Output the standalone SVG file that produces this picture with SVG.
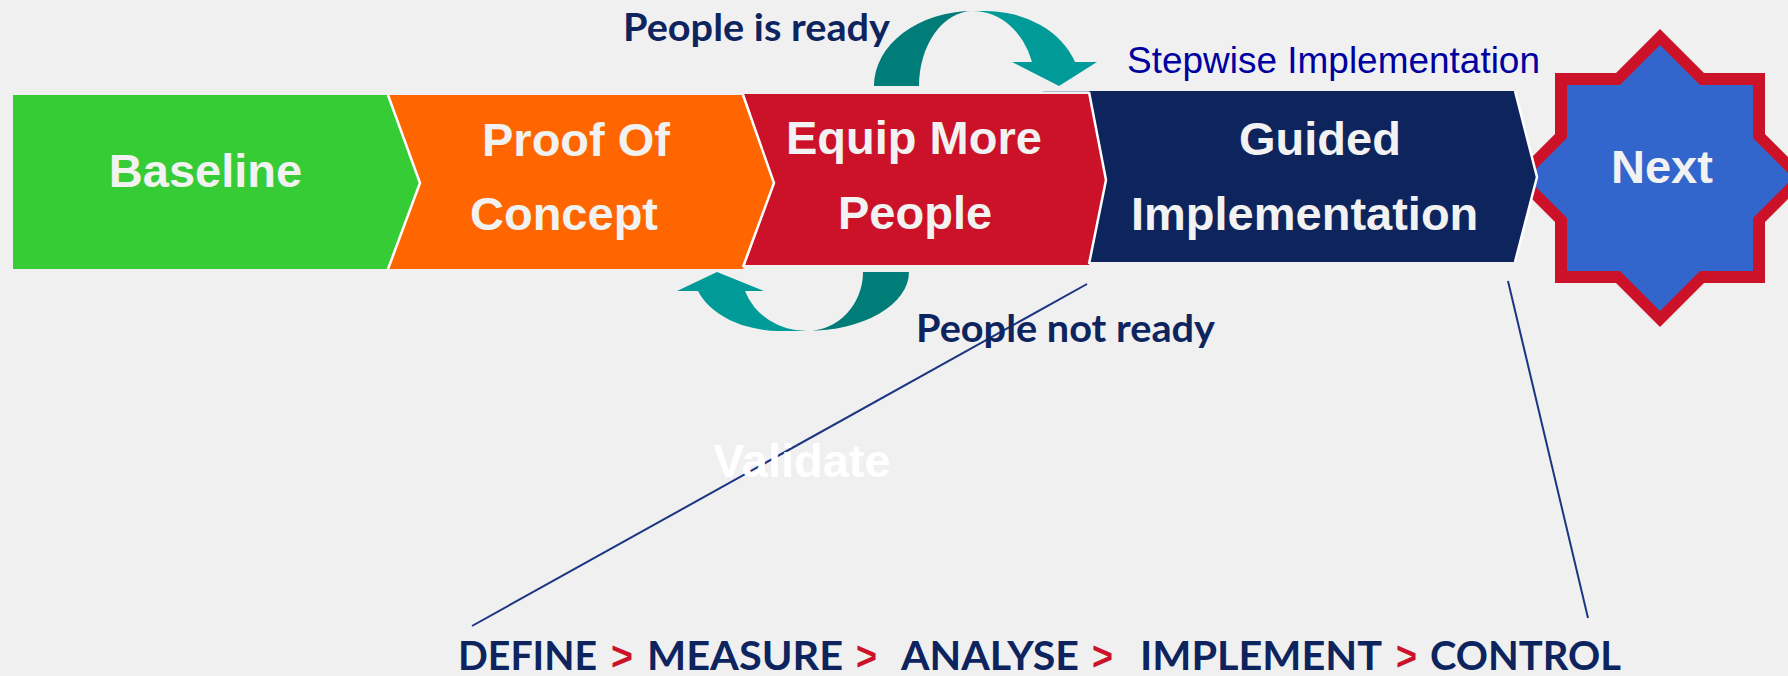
<svg xmlns="http://www.w3.org/2000/svg" width="1788" height="676" viewBox="0 0 1788 676">
<style>
.lbl{font-family:"Liberation Sans",Arial,sans-serif;font-weight:bold;font-size:47px;fill:#f2f2f2}
.sep{fill:none;stroke:#ffffff;stroke-width:2.5;stroke-linejoin:miter}
.cal{font-family:Lato,"Open Sans",sans-serif;font-weight:bold;fill:#0d245e}
.gt{font-family:"Liberation Sans",Arial,sans-serif;font-weight:bold;fill:#cc1229;font-size:40px}
.ln{stroke:#1a3582;stroke-width:2;fill:none}
.dk{fill:#007c79}
.lt{fill:#009b98}
</style>
<rect x="0" y="0" width="1788" height="676" fill="#f0f0f0"/>

<g id="next">
<polygon fill="#cc1229" points="1660,29 1704,73 1765,73 1765,134 1809,178 1765,222 1765,283 1704,283 1660,327 1616,283 1555,283 1555,222 1511,178 1555,134 1555,73 1616,73"/>
<polygon fill="#3366cc" points="1660,45 1700,85 1753,85 1753,138 1793,178 1753,218 1753,271 1700,271 1660,311 1620,271 1567,271 1567,218 1527,178 1567,138 1567,85 1620,85"/>
<text class="lbl" x="1611" y="183">Next</text>
</g>

<g id="baseline">
<polygon fill="#36cc36" points="13,95 388,95 420,183 388,269 13,269"/>
<text class="lbl" x="205.5" y="187" text-anchor="middle">Baseline</text>
</g>

<g id="proof-of-concept">
<polygon fill="#ff6600" points="388,95 743,95 774,183 743,269 388,269 420,183"/>
<text class="lbl" x="482" y="156">Proof Of</text>
<text class="lbl" x="470" y="230">Concept</text>
</g>

<g id="equip-more-people">
<polygon fill="#cc1229" points="744,94 1089,94 1106,180 1089,265 745,265 774,183"/>
<text class="lbl" x="786" y="154">Equip More</text>
<text class="lbl" x="838" y="229">People</text>
</g>

<g id="guided-implementation">
<line x1="1043" y1="91.5" x2="1091" y2="91.5" stroke="#b4bccb" stroke-width="1"/>
<polygon fill="#0d245c" points="1089,91 1515,91 1537,177 1515,262 1089,262 1106,180"/>
<text class="lbl" x="1239" y="155">Guided</text>
<text class="lbl" x="1131" y="230">Implementation</text>
</g>

<g id="separators">
<polyline class="sep" points="388,95 420,183 388,269"/>
<polyline class="sep" points="743,95 774,183 743,267"/>
<polyline class="sep" points="1089,92 1106,180 1089,264"/>
<polyline class="sep" points="1515,91 1537,177 1515,262"/>
</g>

<g id="connectors">
<path class="dk" d="M874,86 A99 75 0 0 1 973,11 A54 75 0 0 0 919,86 Z"/>
<path class="lt" d="M973,11 L985,11 A95 75 0 0 1 1075,62 L1097,62 L1059,86 L1012,62 L1032,62 A62 75 0 0 0 973,11 Z"/>
<path class="dk" d="M909,272 A102 59 0 0 1 807,331 A56 59 0 0 0 863,272 Z"/>
<path class="lt" d="M807,331 L780,331 A87 59 0 0 1 698,291 L677,291 L717,272 L764,291 L745,291 A65.5 59 0 0 0 807,331 Z"/>
<line class="ln" x1="1087" y1="284" x2="472" y2="626"/>
<line class="ln" x1="1508" y1="281" x2="1588" y2="618"/>
</g>

<g id="labels">
<text class="cal" x="623" y="41" font-size="38" textLength="267" lengthAdjust="spacingAndGlyphs">People is ready</text>
<text class="cal" x="916" y="342" font-size="38" textLength="299" lengthAdjust="spacingAndGlyphs">People not ready</text>
<text x="1127" y="73" font-family="'Liberation Sans',Arial,sans-serif" font-size="36" fill="#0000a0" textLength="413" lengthAdjust="spacingAndGlyphs">Stepwise Implementation</text>
<text class="lbl" x="713" y="477" style="fill:#ffffff">Validate</text>
</g>

<g id="dmaic" font-size="41">
<text class="cal" x="458" y="670" textLength="139" lengthAdjust="spacingAndGlyphs">DEFINE</text>
<text class="gt" x="611" y="670" textLength="22" lengthAdjust="spacingAndGlyphs">&gt;</text>
<text class="cal" x="647" y="670" textLength="196" lengthAdjust="spacingAndGlyphs">MEASURE</text>
<text class="gt" x="856" y="670" textLength="21" lengthAdjust="spacingAndGlyphs">&gt;</text>
<text class="cal" x="901" y="670" textLength="178" lengthAdjust="spacingAndGlyphs">ANALYSE</text>
<text class="gt" x="1092" y="670" textLength="21" lengthAdjust="spacingAndGlyphs">&gt;</text>
<text class="cal" x="1140" y="670" textLength="242" lengthAdjust="spacingAndGlyphs">IMPLEMENT</text>
<text class="gt" x="1396" y="670" textLength="21" lengthAdjust="spacingAndGlyphs">&gt;</text>
<text class="cal" x="1430" y="670" textLength="191" lengthAdjust="spacingAndGlyphs">CONTROL</text>
</g>
</svg>
